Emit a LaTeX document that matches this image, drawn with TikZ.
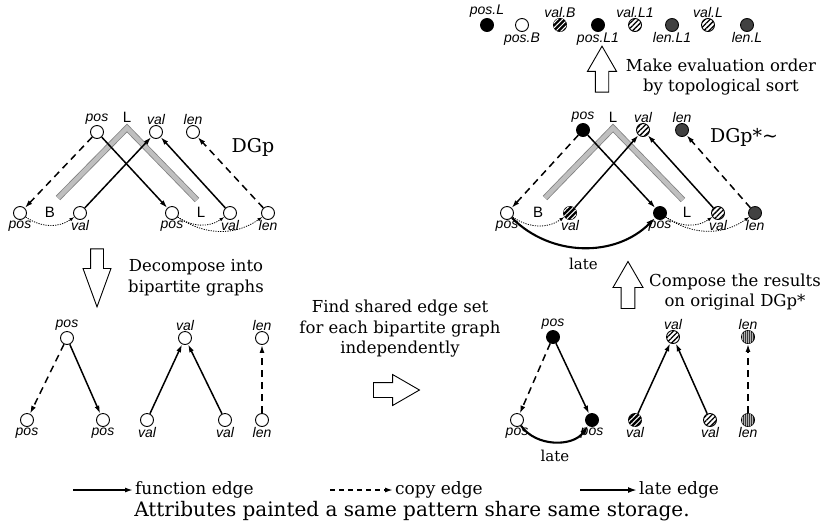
\documentclass[tikz,border=0pt]{standalone}
\usepackage{fontspec}
\setmainfont{DejaVu Serif}
\newfontfamily\sansfont{Liberation Sans}
\usetikzlibrary{arrows.meta,shapes.arrows,patterns.meta}

\tikzset{
  attr/.style={circle,draw,line width=0.9pt,minimum size=13pt,inner sep=0pt,fill=white},
  blk/.style={attr,fill=black},
  hatchw/.style={attr,postaction={pattern={Lines[angle=45,distance=3.6pt,line width=1.3pt]}}},
  hatchb/.style={attr,fill=black,postaction={pattern={Lines[angle=45,distance=3.6pt,line width=1pt]},pattern color=white}},
  grain/.style={attr,fill=black!78,postaction={pattern={Dots[distance=2pt,radius=0.45pt]},pattern color=black!35}},
  stripev/.style={attr,fill=black!78,postaction={pattern={Lines[angle=90,distance=2pt,line width=0.6pt]},pattern color=black!30}},
  lbl/.style={font=\sansfont\itshape\fontsize{14}{14}\selectfont,inner sep=0.5pt},
  tag/.style={font=\sansfont\fontsize{15}{15}\selectfont,inner sep=0pt},
  fedge/.style={line width=1.5pt,-{Latex[length=8pt,width=5pt]}},
  cedge/.style={fedge,dash pattern=on 7pt off 5pt},
  ledge/.style={line width=2.1pt,-{Latex[length=9pt,width=6pt]}},
  dedge/.style={line width=0.8pt,dash pattern=on 1.2pt off 1.2pt,-{Latex[length=5pt,width=3.5pt]}},
  band/.style={draw=black!50,double=black!25,double distance=4.5pt,line width=0.8pt},
  hollow/.style={single arrow,draw,line width=0.9pt,fill=white,inner xsep=0pt,inner ysep=6pt,
    single arrow tip angle=60,single arrow head extend=7.5pt},
  note/.style={align=center,font=\fontsize{16.5}{20.5}\selectfont},
  legend/.style={font=\fontsize{17}{17}\selectfont,inner sep=2pt}
}

\begin{document}
\begin{tikzpicture}[x=1pt,y=1pt]
\useasboundingbox (0,0) rectangle (824,-531);

% evaluation order
\node[blk,label={[lbl]above:pos.L}] (e1) at (487,-25) {};
\node[attr,label={[lbl]below:pos.B}] (e2) at (522,-25) {};
\node[hatchb,label={[lbl]above:val.B}] (e3) at (560,-25) {};
\node[blk,label={[lbl]below:pos.L1}] (e4) at (598,-25) {};
\node[hatchw,label={[lbl]above:val.L1}] (e5) at (635,-25) {};
\node[grain,label={[lbl]below:len.L1}] (e6) at (672,-25) {};
\node[hatchw,label={[lbl]above:val.L}] (e7) at (708,-25) {};
\node[grain,label={[lbl]below:len.L}] (e8) at (747,-25) {};

\node[hollow,rotate=90,minimum height=46pt,minimum width=29pt] (uptopo) at (602,-75) {};
\node[note] (topo) at (721,-77) {Make evaluation order\\by topological sort};

% DGp
\coordinate (bandA) at (58,-198);
\coordinate (apexA) at (127,-128);
\coordinate (bandB) at (197,-200);
\draw[band] (bandA) -- (apexA) -- (bandB);
\node[attr,label={[lbl]above:pos}] (tP) at (97,-132) {};
\node[attr,label={[lbl]above:val}] (tV) at (156,-132) {};
\node[attr,label={[lbl]above:len}] (tLn) at (193,-132) {};
\node[tag] (tagL) at (127,-117) {L};
\node[attr,label={[lbl]below:pos}] (bP1) at (20,-213) {};
\node[attr,label={[lbl]below:val}] (bV1) at (80,-213) {};
\node[attr,label={[lbl]below:pos}] (bP2) at (172,-213) {};
\node[attr,label={[lbl]below:val}] (bV2) at (230,-213) {};
\node[attr,label={[lbl]below:len}] (bLn) at (268,-213) {};
\node[tag] (tagB) at (50,-212) {B};
\node[tag] (tagL1) at (201,-212) {L};
\node[font=\fontsize{19}{19}\selectfont] (dgp) at (253,-147) {DGp};
\draw[cedge] (tP) -- (bP1);
\draw[fedge] (bV1) -- (tV);
\draw[fedge] (tP) -- (bP2);
\draw[fedge] (bV2) -- (tV);
\draw[cedge] (bLn) -- (tLn);
\draw[dedge] (bP1) to[bend right=35] (bV1);
\draw[dedge] (bP2) to[bend right=35] (bV2);
\draw[dedge] (bP2) to[bend right=35] (bLn);

% DGp*~
\coordinate (bandC) at (545,-198);
\coordinate (apexC) at (613,-128);
\coordinate (bandD) at (683,-200);
\draw[band] (bandC) -- (apexC) -- (bandD);
\node[blk,label={[lbl]above:pos}] (rtP) at (583,-130) {};
\node[hatchw,label={[lbl]above:val}] (rtV) at (643,-130) {};
\node[grain,label={[lbl]above:len}] (rtLn) at (682,-130) {};
\node[tag] (rtagL) at (613,-117) {L};
\node[attr,label={[lbl]below:pos}] (rbP1) at (507,-213) {};
\node[hatchb,label={[lbl]below:val}] (rbV1) at (570,-213) {};
\node[blk,label={[lbl]below:pos}] (rbP2) at (660,-213) {};
\node[hatchw,label={[lbl]below:val}] (rbV2) at (718,-213) {};
\node[grain,label={[lbl]below:len}] (rbLn) at (755,-213) {};
\node[tag] (rtagB) at (538,-212) {B};
\node[tag] (rtagL1) at (687,-212) {L};
\node[font=\fontsize{19}{19}\selectfont] (dgps) at (744,-137) {DGp*\textasciitilde};
\draw[cedge] (rtP) -- (rbP1);
\draw[fedge] (rbV1) -- (rtV);
\draw[fedge] (rtP) -- (rbP2);
\draw[fedge] (rbV2) -- (rtV);
\draw[cedge] (rbLn) -- (rtLn);
\draw[dedge] (rbP1) to[bend right=35] (rbV1);
\draw[dedge] (rbP2) to[bend right=35] (rbV2);
\draw[dedge] (rbP2) to[bend right=35] (rbLn);
\draw[ledge] (rbP1) to[bend right=45] node[below=6pt,font=\fontsize{15}{15}\selectfont] (late1) {late} (rbP2);

% steps
\node[hollow,rotate=-90,single arrow tip angle=40,minimum height=58pt,minimum width=27pt] (down) at (97,-269) {};
\node[note] (decomp) at (196,-278) {Decompose into\\bipartite graphs};
\node[note] (shared) at (400,-329) {Find shared edge set\\for each bipartite graph\\independently};
\node[hollow,inner ysep=7pt,single arrow head extend=8pt,minimum height=46pt,minimum width=30pt] (right) at (390,-390) {};
\node[hollow,rotate=90,minimum height=47pt,minimum width=30pt] (upcomp) at (628,-291) {};
\node[note] (compose) at (735,-292) {Compose the results\\on original DGp*};

% bipartite graphs
\node[attr,label={[lbl]above:pos}] (lP) at (67,-338) {};
\node[attr,label={[lbl]below:pos}] (lpA) at (27,-420) {};
\node[attr,label={[lbl]below:pos}] (lpB) at (103,-420) {};
\node[attr,label={[lbl]above:val}] (lV) at (185,-338) {};
\node[attr,label={[lbl]below:val}] (lvA) at (147,-420) {};
\node[attr,label={[lbl]below:val}] (lvB) at (225,-420) {};
\node[attr,label={[lbl]above:len}] (lL) at (262,-338) {};
\node[attr,label={[lbl]below:len}] (llA) at (262,-420) {};
\draw[cedge] (lP) -- (lpA);
\draw[fedge] (lP) -- (lpB);
\draw[fedge] (lvA) -- (lV);
\draw[fedge] (lvB) -- (lV);
\draw[cedge] (llA) -- (lL);

\node[blk,label={[lbl]above:pos}] (mP) at (553,-337) {};
\node[attr,label={[lbl]below:pos}] (mpA) at (517,-420) {};
\node[blk,label={[lbl]below:pos}] (mpB) at (592,-420) {};
\node[hatchw,label={[lbl]above:val}] (mV) at (673,-337) {};
\node[hatchb,label={[lbl]below:val}] (mvA) at (635,-420) {};
\node[hatchw,label={[lbl]below:val}] (mvB) at (710,-420) {};
\node[stripev,label={[lbl]above:len}] (mL) at (748,-337) {};
\node[stripev,label={[lbl]below:len}] (mlA) at (748,-420) {};
\draw[cedge] (mP) -- (mpA);
\draw[fedge] (mP) -- (mpB);
\draw[fedge] (mvA) -- (mV);
\draw[fedge] (mvB) -- (mV);
\draw[cedge] (mlA) -- (mL);
\draw[ledge] (mpA) to[bend right=55] (mpB);
\node[font=\fontsize{15}{15}\selectfont] (late2) at (555,-456) {late};

% legend
\coordinate (fa) at (73,-490);
\coordinate (fb) at (133,-490);
\draw[fedge] (fa) -- (fb);
\node[legend,anchor=west] (ftext) at (fb) {function edge};
\coordinate (ca) at (330,-490);
\coordinate (cb) at (393,-490);
\draw[cedge,dash pattern=on 5pt off 4pt] (ca) -- (cb);
\node[legend,anchor=west] (ctext) at (cb) {copy edge};
\coordinate (la) at (580,-490);
\coordinate (lb) at (637,-490);
\draw[ledge] (la) -- (lb);
\node[legend,anchor=west] (ltext) at (lb) {late edge};
\node[font=\fontsize{20}{20}\selectfont] (caption) at (412,-511) {Attributes painted a same pattern share same storage.};
\end{tikzpicture}
\end{document}
